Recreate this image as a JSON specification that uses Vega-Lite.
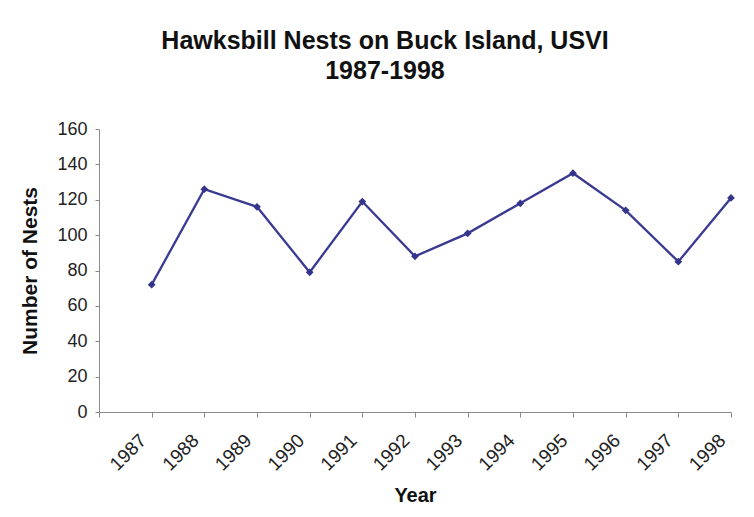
{
  "$schema": "https://vega.github.io/schema/vega-lite/v6.json",
  "autosize": "none",
  "width": 632,
  "height": 283,
  "padding": {"left": 99, "top": 129, "right": 23, "bottom": 105},
  "background": "white",
  "title": {
    "text": ["Hawksbill Nests on Buck Island, USVI", "1987-1998"],
    "font": "Liberation Sans",
    "fontSize": 25,
    "fontWeight": "bold",
    "color": "#111111",
    "lineHeight": 30,
    "anchor": "middle",
    "frame": "group",
    "dx": -30,
    "offset": 36
  },
  "data": {
    "values": [
      {"year": 1987, "nests": 72},
      {"year": 1988, "nests": 126},
      {"year": 1989, "nests": 116},
      {"year": 1990, "nests": 79},
      {"year": 1991, "nests": 119},
      {"year": 1992, "nests": 88},
      {"year": 1993, "nests": 101},
      {"year": 1994, "nests": 118},
      {"year": 1995, "nests": 135},
      {"year": 1996, "nests": 114},
      {"year": 1997, "nests": 85},
      {"year": 1998, "nests": 121}
    ]
  },
  "mark": {
    "type": "line",
    "color": "#3a3a92",
    "strokeWidth": 2.3,
    "point": {"shape": "diamond", "size": 60, "filled": true, "color": "#34348c"}
  },
  "encoding": {
    "x": {
      "field": "year",
      "type": "quantitative",
      "scale": {"domain": [1986, 1998], "nice": false, "zero": false},
      "axis": {
        "title": "Year",
        "values": [1986, 1987, 1988, 1989, 1990, 1991, 1992, 1993, 1994, 1995, 1996, 1997, 1998],
        "labelExpr": "datum.value == 1986 ? '' : datum.label",
        "format": "d",
        "labelAngle": -45,
        "labelAlign": "right",
        "labelBaseline": "middle",
        "labelPadding": 20,
        "labelOffset": -9,
        "labelFont": "Liberation Sans",
        "labelFontSize": 19,
        "labelColor": "#222222",
        "titleFont": "Liberation Sans",
        "titleFontSize": 20,
        "titleFontWeight": "bold",
        "titleColor": "#111111",
        "titlePadding": 12,
        "grid": false,
        "domainColor": "#8a8a8a",
        "tickColor": "#8a8a8a",
        "tickSize": 5
      }
    },
    "y": {
      "field": "nests",
      "type": "quantitative",
      "scale": {"domain": [0, 160], "nice": false},
      "axis": {
        "title": "Number of Nests",
        "values": [0, 20, 40, 60, 80, 100, 120, 140, 160],
        "labelFont": "Liberation Sans",
        "labelFontSize": 18,
        "labelColor": "#222222",
        "labelPadding": 8,
        "titleFont": "Liberation Sans",
        "titleFontSize": 21,
        "titleFontWeight": "bold",
        "titleColor": "#111111",
        "titlePadding": 16,
        "grid": false,
        "domainColor": "#8a8a8a",
        "tickColor": "#8a8a8a",
        "tickSize": 4
      }
    }
  },
  "config": {"view": {"stroke": null}}
}
